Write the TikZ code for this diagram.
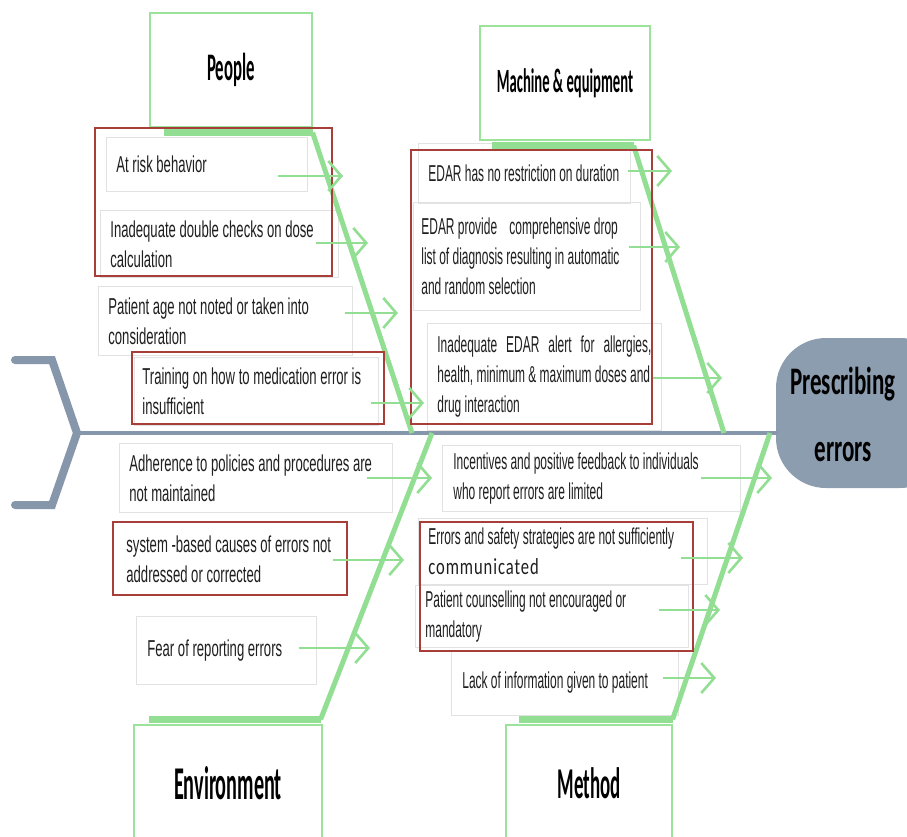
\documentclass[tikz,border=0pt]{standalone}
\usepackage{fontspec}
\setmainfont{Liberation Sans}
\newfontfamily\causefont{Liberation Sans}[FakeStretch=0.57]
\newfontfamily\causefontr{Liberation Sans}[FakeStretch=0.52]
\newfontfamily\notefont{Carlito}[FakeStretch=0.72, LetterSpace=4]
\newfontfamily\titlefont{Carlito}[FakeStretch=0.43]
\newfontfamily\headfont{Carlito}[FakeStretch=0.59]
\usetikzlibrary{arrows.meta, calc}
\definecolor{spinegray}{RGB}{134,151,172}
\definecolor{headfill}{RGB}{141,157,176}
\definecolor{bonegreen}{RGB}{146,222,146}
\definecolor{titlegreen}{RGB}{155,226,155}
\definecolor{boxgray}{RGB}{226,226,226}
\definecolor{hlred}{RGB}{168,62,56}
\hyphenpenalty=10000
\exhyphenpenalty=10000

\begin{document}
\begin{tikzpicture}[x=1pt, y=-1pt,
    cause/.style={draw=boxgray, line width=0.8pt, anchor=north west, align=flush left,
        inner xsep=10pt, inner ysep=0pt, text=black!88,
        font={\causefont\fontsize{23}{30}\selectfont}},
    causer/.style={cause, font={\causefontr\fontsize{23}{30}\selectfont}},
    title/.style={draw=titlegreen, line width=1.2pt, inner sep=0pt},
    bone/.style={draw=bonegreen, line width=5pt},
    bonebar/.style={draw=bonegreen, line width=7.5pt},
    hlframe/.style={draw=hlred, line width=1.3pt},
    causearrow/.style={draw=bonegreen, line width=2.6pt,
        -{Straight Barb[length=13pt, width=30pt]}},
    spine/.style={draw=spinegray, line width=4pt},
    tailstroke/.style={draw=spinegray, line width=8pt, line cap=round},
]
    \useasboundingbox (0,0) rectangle (907,837);
    \clip (0,0) rectangle (907,837);
    \fill[white] (0,0) rectangle (907,837);

    % Head of the fish
    \fill[headfill, rounded corners=50pt] (776,338) rectangle (950,488);
    \node[align=center, text width=130pt, inner xsep=0pt,
        font={\headfont\bfseries\fontsize{39}{67}\selectfont}]
        (head) at (843,414) {Prescribing\\errors};

    % Spine and tail
    \coordinate (tail) at (77,433);
    \draw[spine] (tail) -- (tail -| head.west);
    \draw[tailstroke] (15,360) -- (52,360) -- (tail) -- (52,505) -- (15,505);

    % Joints of the bones on the spine
    \coordinate (pjoin) at (412,433);
    \coordinate (mjoin) at (724,433);
    \coordinate (ejoin) at (432,433);
    \coordinate (mejoin) at (770,433);

    % People causes
    \node[cause, text width=181pt, minimum height=54pt] (p1) at (106,137)
        {At risk behavior};
    \node[cause, text width=218pt, minimum height=67pt] (p2) at (100,210)
        {Inadequate double checks on dose\\calculation};
    \node[cause, text width=234pt, minimum height=69pt] (p3) at (98,286)
        {Patient age not noted or taken into\\consideration};
    \node[cause, inner xsep=8pt, text width=228pt, minimum height=68pt] (p4) at (134,357)
        {Training on how to medication error is\\insufficient};

    % Machine & equipment causes
    \node[causer, text width=192pt, minimum height=60pt] (m1) at (418,143)
        {EDAR has no restriction on duration};
    \node[causer, inner xsep=8pt, text width=211pt, minimum height=108pt] (m2) at (413,202)
        {EDAR provide\hspace{9pt} comprehensive drop\\list of diagnosis resulting in automatic\\and random selection};
    \node[causer, text width=214pt, minimum height=107pt] (m3) at (427,323)
        {Inadequate\hfill EDAR\hfill alert\hfill for\hfill allergies,\\health, minimum \& maximum doses and\\drug interaction};

    % Environment causes
    \node[cause, text width=253pt, minimum height=69pt] (e1) at (119,443)
        {Adherence to policies and procedures are\\not maintained};
    \node[cause, inner xsep=13pt, text width=208pt, minimum height=73pt] (e2) at (113,522)
        {system -based causes of errors not\\addressed or corrected};
    \node[cause, inner xsep=11pt, text width=158pt, minimum height=68pt] (e3) at (136,616)
        {Fear of reporting errors};

    % Method causes
    \node[causer, inner xsep=11pt, text width=276pt, minimum height=66pt] (me1) at (442,445)
        {Incentives and positive feedback to individuals\\who report errors are limited};
    \node[causer, text width=269pt, minimum height=66pt] (me2) at (418,518)
        {Errors and safety strategies are not sufficiently\\{\notefont communicated}};
    \node[causer, text width=253pt, minimum height=62pt] (me3) at (415,585)
        {Patient counselling not encouraged or\\mandatory};
    \node[causer, inner xsep=11pt, text width=205pt, minimum height=65pt] (me4) at (451,650)
        {Lack of information given to patient};

    % Category titles
    \node[title, minimum width=162pt, minimum height=114pt,
        font={\titlefont\bfseries\fontsize{39}{44}\selectfont}]
        (people) at (231,70) {People};
    \node[title, minimum width=170pt, minimum height=114pt,
        font={\titlefont\bfseries\fontsize{34}{40}\selectfont}]
        (machine) at (565,83) {Machine \& equipment};
    \node[title, minimum width=188pt, minimum height=116pt,
        font={\titlefont\bfseries\fontsize{47}{52}\selectfont}]
        (environment) at (228,783) {Environment};
    \node[title, minimum width=166pt, minimum height=116pt,
        font={\titlefont\bfseries\fontsize{44}{50}\selectfont}]
        (method) at (589,783) {Method};

    % Bones
    \draw[bonebar] ([xshift=15pt, yshift=-5pt]people.south west)
        -- ([yshift=-5pt]people.south east);
    \draw[bone] ([yshift=-5pt]people.south east) -- (pjoin);
    \draw[bonebar] ([xshift=13pt, yshift=-5pt]machine.south west)
        -- ([xshift=-17pt, yshift=-5pt]machine.south east);
    \draw[bone] ([xshift=-17pt, yshift=-5pt]machine.south east) -- (mjoin);
    \draw[bonebar] ([xshift=16pt, yshift=5pt]environment.north west)
        -- ([xshift=-2pt, yshift=5pt]environment.north east);
    \draw[bone] ([xshift=-2pt, yshift=5pt]environment.north east) -- (ejoin);
    \draw[bonebar] ([xshift=14pt, yshift=5pt]method.north west)
        -- ([yshift=5pt]method.north east);
    \draw[bone] ([yshift=5pt]method.north east) -- (mejoin);

    % Highlighted causes
    \draw[hlframe] (95,128) rectangle (332,276);
    \draw[hlframe] (132,352) rectangle (384,424);
    \draw[hlframe] (411,150) rectangle (652,424);
    \draw[hlframe] (113,522) rectangle (347,595);
    \draw[hlframe] (420,522) rectangle (693,651);

    % Arrow tips on the bones
    \coordinate (pa1) at (343,176);
    \coordinate (pa2) at (368,243);
    \coordinate (pa3) at (398,313);
    \coordinate (pa4) at (424,403);
    \coordinate (ma1) at (672,171);
    \coordinate (ma2) at (680,247);
    \coordinate (ma3) at (722,378);
    \coordinate (ea1) at (432,478);
    \coordinate (ea2) at (404,560);
    \coordinate (ea3) at (370,648);
    \coordinate (mea1) at (772,478);
    \coordinate (mea2) at (743,558);
    \coordinate (mea3) at (720,610);
    \coordinate (mea4) at (716,678);

    % Arrows from causes to bones
    \foreach \c/\t/\dx in {p1/pa1/-30, p2/pa2/-23, p3/pa3/-8, p4/pa4/-8,
        m1/ma1/-3, m2/ma2/-12, m3/ma3/-9, e1/ea1/-26, e2/ea2/-15, e3/ea3/-18,
        me1/mea1/-40, me2/mea2/-27, me3/mea3/-30, me4/mea4/-16}
        \draw[causearrow] ($(\c.east |- \t)+(\dx,0)$) -- (\t);
\end{tikzpicture}
\end{document}
